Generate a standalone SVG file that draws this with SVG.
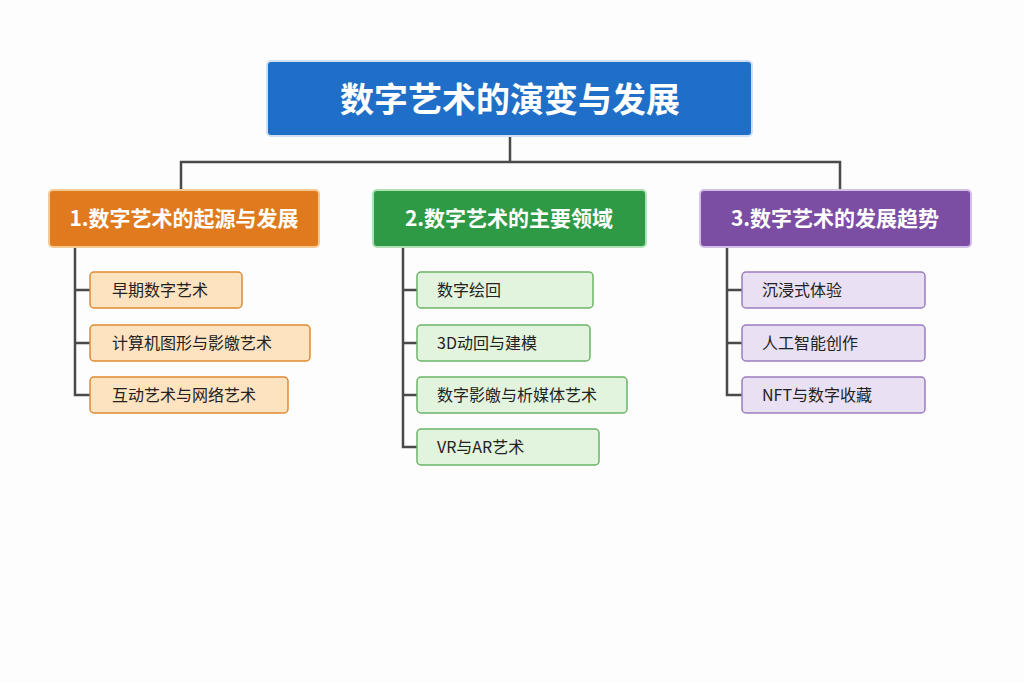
<svg xmlns="http://www.w3.org/2000/svg" width="1024" height="683" viewBox="0 0 1024 683">
<style>
text{font-family:"Noto Sans CJK SC","Noto Sans",sans-serif}
.t{fill:#fff;font-weight:bold;font-size:21px}
.c{fill:#222;font-size:16px}
.ln{stroke:#4a4a4a;stroke-width:2.5;fill:none}
.o{fill:#fde3c0;stroke:#e08a30;stroke-width:1.5}
.g{fill:#e2f4de;stroke:#6cb468;stroke-width:1.5}
.p{fill:#e9e0f3;stroke:#9a7cbe;stroke-width:1.5}
</style>
<rect width="1024" height="683" fill="#fdfdfd"/>
<g id="connectors" class="ln">
<path d="M510 136V162M181 190V162H840V190"/>
<path d="M75 247V395H90M75 290H90M75 343H90"/>
<path d="M403 247V447H417M403 290H417M403 343H417M403 395H417"/>
<path d="M727 247V395H742M727 290H742M727 343H742"/>
</g>
<g id="title"><rect x="267" y="61" width="485" height="75" rx="4" fill="#1f6fc8" stroke="#cfe0f3" stroke-width="2"/>
<text x="510" y="112" text-anchor="middle" fill="#fff" font-weight="bold" font-size="34">数字艺术的演变与发展</text></g>
<g id="b1"><rect x="49" y="190" width="270" height="57" rx="4" fill="#e07a1f" stroke="#f6c894" stroke-width="2"/><text class="t" x="184" y="226" text-anchor="middle">1.数字艺术的起源与发展</text></g>
<g id="b2"><rect x="373" y="190" width="273" height="57" rx="4" fill="#2e9a45" stroke="#b2e0b6" stroke-width="2"/><text class="t" x="509" y="226" text-anchor="middle">2.数字艺术的主要领域</text></g>
<g id="b3"><rect x="700" y="190" width="271" height="57" rx="4" fill="#7b4ea3" stroke="#d3c0e6" stroke-width="2"/><text class="t" x="835" y="226" text-anchor="middle">3.数字艺术的发展趋势</text></g>
<g id="c11"><rect class="o" x="90" y="272" width="152" height="36" rx="4"/><text class="c" x="112" y="296">早期数字艺术</text></g>
<g id="c12"><rect class="o" x="90" y="325" width="220" height="36" rx="4"/><text class="c" x="112" y="349">计算机图形与影皦艺术</text></g>
<g id="c13"><rect class="o" x="90" y="377" width="198" height="36" rx="4"/><text class="c" x="112" y="401">互动艺术与网络艺术</text></g>
<g id="c21"><rect class="g" x="417" y="272" width="176" height="36" rx="4"/><text class="c" x="437" y="296">数字绘回</text></g>
<g id="c22"><rect class="g" x="417" y="325" width="173" height="36" rx="4"/><text class="c" x="437" y="349">3D动回与建模</text></g>
<g id="c23"><rect class="g" x="417" y="377" width="210" height="36" rx="4"/><text class="c" x="437" y="401">数字影皦与析媒体艺术</text></g>
<g id="c24"><rect class="g" x="417" y="429" width="182" height="36" rx="4"/><text class="c" x="437" y="453">VR与AR艺术</text></g>
<g id="c31"><rect class="p" x="742" y="272" width="183" height="36" rx="4"/><text class="c" x="762" y="296">沉浸式体验</text></g>
<g id="c32"><rect class="p" x="742" y="325" width="183" height="36" rx="4"/><text class="c" x="762" y="349">人工智能创作</text></g>
<g id="c33"><rect class="p" x="742" y="377" width="183" height="36" rx="4"/><text class="c" x="762" y="401">NFT与数字收藏</text></g>
</svg>
